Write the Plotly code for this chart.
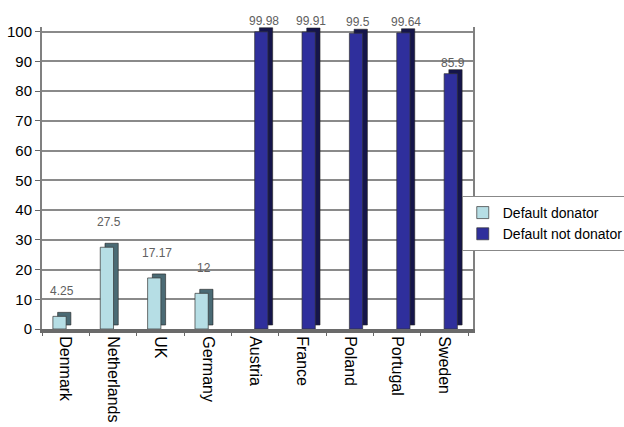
import plotly.graph_objects as go

countries_donor = ["Denmark", "Netherlands", "UK", "Germany"]
values_donor = [4.25, 27.5, 17.17, 12]
countries_nondonor = ["Austria", "France", "Poland", "Portugal", "Sweden"]
values_nondonor = [99.98, 99.91, 99.5, 99.64, 85.9]
all_countries = countries_donor + countries_nondonor
y_ticks = list(range(0, 101, 10))

FONT = "Liberation Sans, Arial, sans-serif"
LIGHT, LIGHT_SIDE = "#B6DEE5", "#4A6A74"
DARK, DARK_SIDE = "#2F2F9C", "#15154A"
DEPTH_X, DEPTH_Y, BW = 0.1, 1.35, 0.28
SERIES_SHIFT = 0.13

fig = go.Figure()
annotations = []

for name, xs, ys, face, side, shift, lab_shift in [
    ("Default donator", countries_donor, values_donor, LIGHT, LIGHT_SIDE, -SERIES_SHIFT, 16),
    ("Default not donator", countries_nondonor, values_nondonor, DARK, DARK_SIDE, SERIES_SHIFT, 2),
]:
    # 3D side/top depth
    fig.add_trace(go.Bar(
        x=xs, y=ys, base=DEPTH_Y, width=BW, offset=-BW / 2 + shift + DEPTH_X,
        marker=dict(color=side, line=dict(color="#222", width=0.6)),
        showlegend=False, hoverinfo="skip",
    ))
    # front face
    fig.add_trace(go.Bar(
        x=xs, y=ys, width=BW, offset=-BW / 2 + shift, name=name,
        marker=dict(color=face, line=dict(color="#333", width=0.7)),
    ))
    # data labels
    for c, v in zip(xs, ys):
        annotations.append(dict(
            x=all_countries.index(c) + shift + DEPTH_X / 2, y=v,
            xref="x", yref="y", text=f"{v:g}", showarrow=False,
            yanchor="bottom", yshift=lab_shift,
            font=dict(family=FONT, size=12, color="#606060"),
        ))

fig.update_layout(
    width=624, height=427,
    margin=dict(l=42, r=151, t=27, b=98, autoexpand=False),
    paper_bgcolor="white", plot_bgcolor="white",
    barmode="overlay",
    font=dict(family=FONT, size=14, color="black"),
    showlegend=True,
    annotations=annotations,
    legend=dict(
        xref="container", yref="container",
        x=0.74, xanchor="left", y=0.541, yanchor="top",
        bgcolor="white", bordercolor="#888", borderwidth=1,
        font=dict(family=FONT, size=14, color="black"),
        itemwidth=30, tracegroupgap=0,
    ),
    xaxis=dict(
        categoryorder="array", categoryarray=all_countries,
        tickangle=90, ticks="outside", tickson="boundaries", ticklen=3,
        tickcolor="#666", showline=True, linecolor="#6a6a6a", linewidth=4,
        showgrid=False, range=[-0.5, 8.6], automargin=False,
        tickfont=dict(family=FONT, size=16, color="black"),
    ),
    yaxis=dict(
        range=[0, 101.6], tickvals=y_ticks, ticks="outside", ticklen=5,
        tickcolor="#666", showline=True, linecolor="#808080", linewidth=2,
        mirror=True, showgrid=True, gridcolor="#8a8a8a", gridwidth=1.5,
        zeroline=False, automargin=False,
        tickfont=dict(family=FONT, size=15, color="black"),
    ),
)

fig.write_html("out.html")
